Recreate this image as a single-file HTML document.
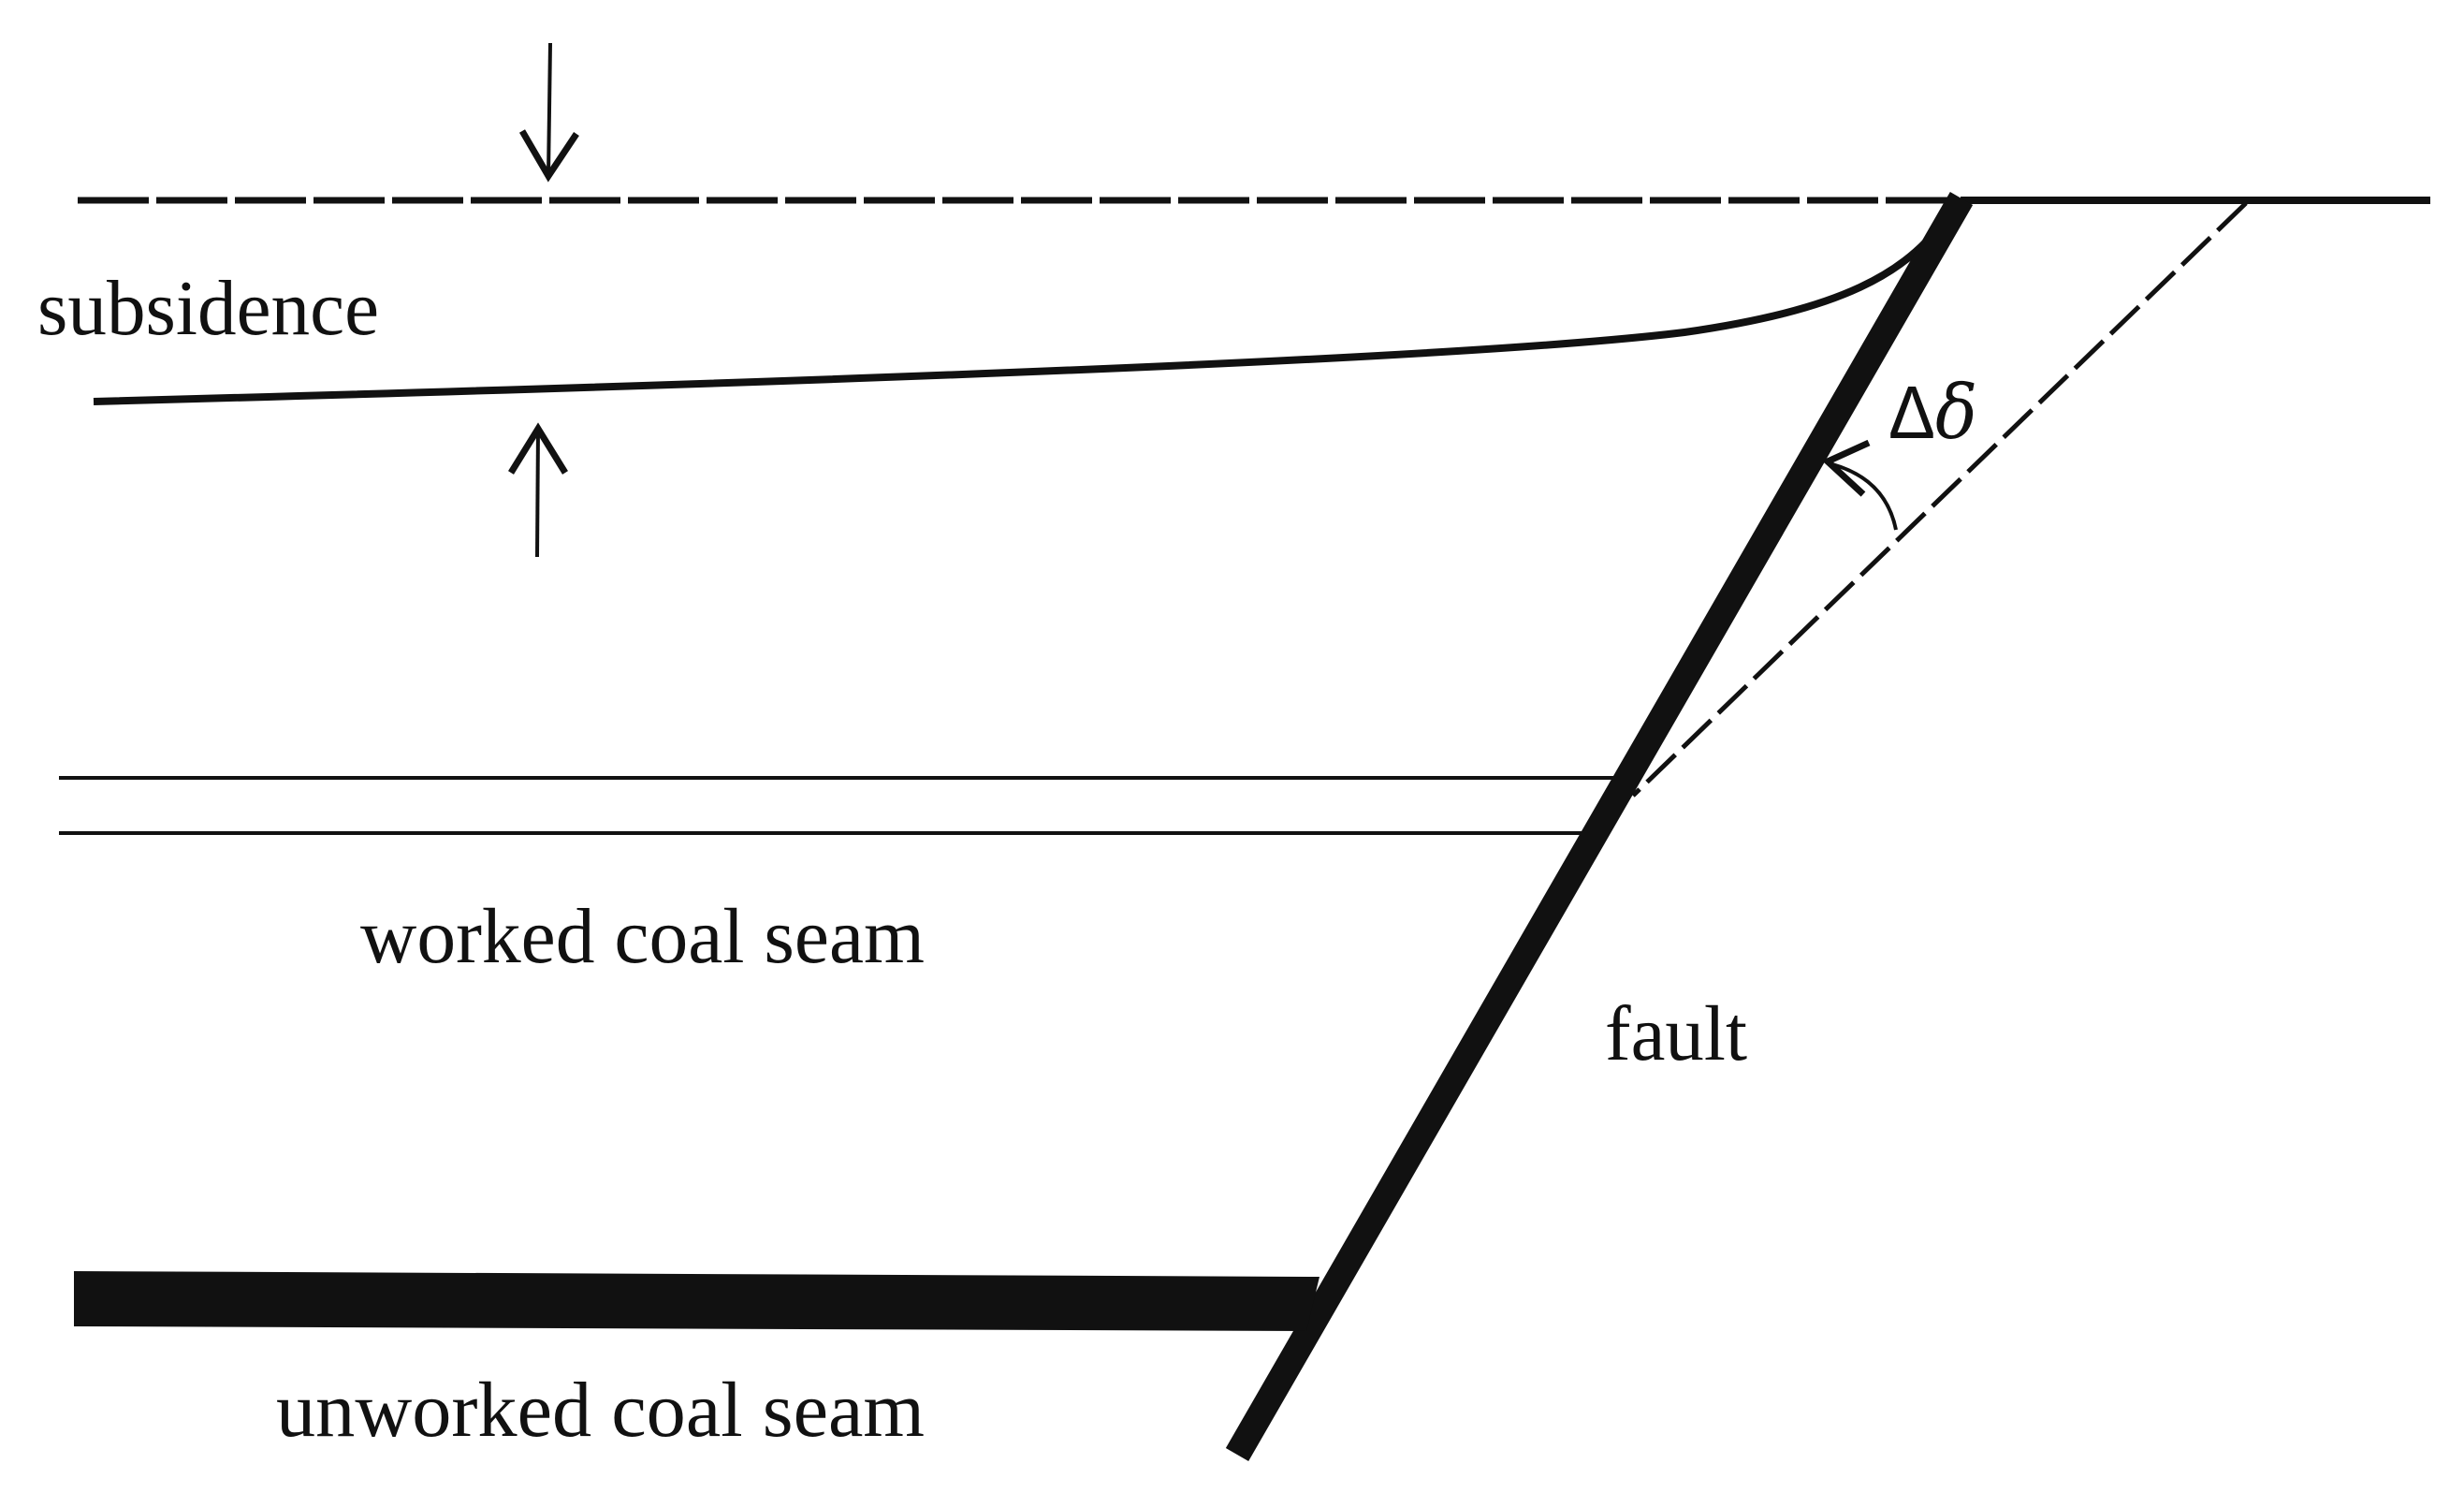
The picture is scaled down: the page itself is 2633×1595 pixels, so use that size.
<!DOCTYPE html>
<html><head><meta charset="utf-8"><style>html,body{margin:0;padding:0;background:#fff}svg{display:block}</style></head>
<body>
<svg width="2633" height="1595" viewBox="0 0 2633 1595" xmlns="http://www.w3.org/2000/svg">
<g stroke="#111" fill="none">
<line x1="83" y1="214" x2="2085" y2="214" stroke-width="7" stroke-dasharray="76,8"/>
<line x1="2095" y1="214" x2="2597" y2="214" stroke-width="8"/>
<line x1="2400" y1="217" x2="1745" y2="850" stroke-width="5" stroke-dasharray="42,11"/>
<path d="M100,429 Q1500,392 1800,355 C1960,332 2045,295 2088,218" stroke-width="8"/>
<line x1="2096" y1="212" x2="1322" y2="1554" stroke-width="28"/>
<line x1="63" y1="831" x2="1728" y2="831" stroke-width="4"/>
<line x1="63" y1="890" x2="1690" y2="890" stroke-width="4"/>
<line x1="588" y1="46" x2="586" y2="188" stroke-width="4"/>
<polyline points="558,140 586,188 616,143" stroke-width="7"/>
<line x1="574" y1="595" x2="575" y2="458" stroke-width="4"/>
<polyline points="546,505 575,458 604,505" stroke-width="7"/>
<polyline points="1997,473 1953,493 1991,528" stroke-width="7"/>
<path d="M1958,496 Q2015,512 2026,566" stroke-width="4"/>
</g>
<polygon points="79,1358 1410,1364 1396,1422 79,1417" fill="#111"/>
<g font-family="'Liberation Serif',serif" fill="#111" font-size="84">
<text x="40" y="357" textLength="365" lengthAdjust="spacingAndGlyphs">subsidence</text>
<text x="385" y="1028" textLength="603" lengthAdjust="spacingAndGlyphs">worked coal seam</text>
<text x="295" y="1534" textLength="693" lengthAdjust="spacingAndGlyphs">unworked coal seam</text>
<text x="1715" y="1132" textLength="152" lengthAdjust="spacingAndGlyphs">fault</text>
</g>
<text x="2018" y="468" font-family="'Liberation Sans','DejaVu Sans',sans-serif" font-size="80" fill="#111" textLength="95" lengthAdjust="spacingAndGlyphs">Δ<tspan font-style="italic" font-family="'DejaVu Serif','Liberation Serif',serif">δ</tspan></text>
</svg>
</body></html>
